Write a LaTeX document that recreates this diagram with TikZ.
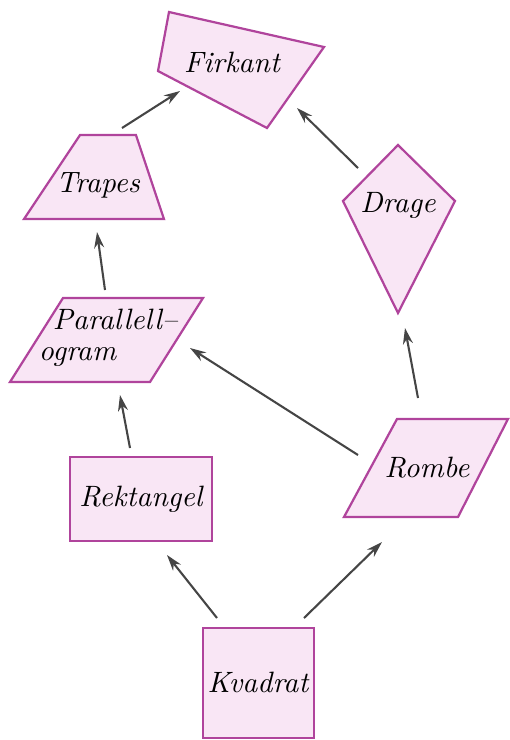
\documentclass[tikz,border=0pt]{standalone}
\usepackage{amsmath,amssymb}
\usepackage{xcolor}
\usepackage{tikz}
\usetikzlibrary{positioning,calc,arrows.meta,backgrounds}

\definecolor{figborder}{HTML}{B0449C}
\definecolor{figfill}{HTML}{F9E6F5}
\definecolor{pilgray}{HTML}{454545}

\begin{document}
\begin{tikzpicture}[x=0.36pt, y=-0.36pt,
        figur/.style={draw=figborder, fill=figfill, line width=0.8pt, line join=miter},
        navn/.style={font=\fontsize{10.6}{11}\selectfont\itshape, inner sep=0pt},
        line/.style={draw=pilgray, line width=0.75pt, -{Stealth[length=5.8pt,width=3.6pt]}}]

        \useasboundingbox (0,0) rectangle (510,740);

        % navn på figurene
        \node [navn] (firkant) at (232,62) {Firkant};
        \node [navn] (trapes) at (98,185) {Trapes};
        \node [navn] (drage) at (398,205) {Drage};
        \node [navn, align=left] (parall) at (108,338) {\hspace*{5pt}Parallell--\\ogram};
        \node [navn] (rombe) at (427,468) {Rombe};
        \node [navn] (rektangel) at (141,499) {Rektangel};
        \node [navn] (kvadrat) at (258,682) {Kvadrat};

        % figurene
        \begin{scope}[on background layer]
            \path [figur] (169,12) -- (324,47) -- (267,128) -- (158,71) -- cycle;
            \path [figur] (80,135) -- (136,135) -- (164,219) -- (24,219) -- cycle;
            \path [figur] (398,145) -- (455,201) -- (398,313) -- (343,201) -- cycle;
            \path [figur] (63,298) -- (203,298) -- (150,382) -- (10,382) -- cycle;
            \path [figur] (397,419) -- (508,419) -- (458,517) -- (344,517) -- cycle;
            \path [figur] (70,457) rectangle (212,541);
            \path [figur] (203,628) rectangle (314,738);
        \end{scope}

        % piler
        \path [line] ($(trapes)+(24,-57)$) -- ($(firkant)+(-52,29)$);
        \path [line] ($(drage)+(-40,-37)$) -- ($(firkant)+(65,46)$);
        \path [line] ($(parall)+(-3,-48)$) -- ($(trapes)+(-1,47)$);
        \path [line] ($(rombe)+(-9,-70)$) -- ($(drage)+(7,123)$);
        \path [line] ($(rombe)+(-69,-13)$) -- ($(parall)+(82,10)$);
        \path [line] ($(rektangel)+(-11,-51)$) -- ($(parall)+(12,57)$);
        \path [line] ($(kvadrat)+(-41,-64)$) -- ($(rektangel)+(26,56)$);
        \path [line] ($(kvadrat)+(46,-64)$) -- ($(rombe)+(-45,74)$);
    \end{tikzpicture}
\end{document}
